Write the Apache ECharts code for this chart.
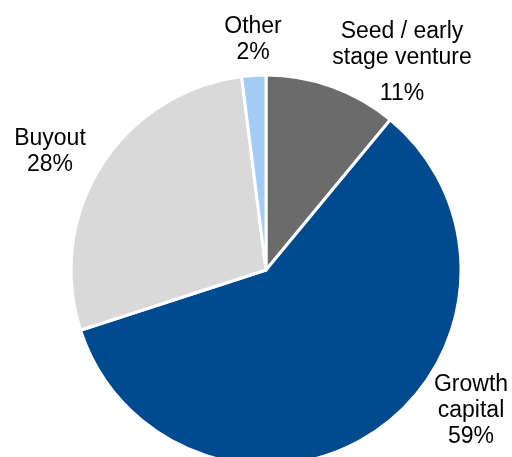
<!DOCTYPE html>
<html><head><meta charset="utf-8">
<script src="https://cdn.jsdelivr.net/npm/echarts@6/dist/echarts.min.js"></script>
<style>html,body{margin:0;padding:0;background:#fff}#c{width:512px;height:457px}</style>
</head><body><div id="c"></div>
<script>
var categories = ['Seed / early\nstage venture', 'Growth\ncapital', 'Buyout', 'Other'];
var values = [11, 59, 28, 2];
var colors = ['#6b6b6b', '#004b8f', '#d9d9d9', '#a3cdf7'];
var labelPos = [[402, 68], [471, 411], [50, 152], [253, 40]];

var chart = echarts.init(document.getElementById('c'));
var ff = 'Liberation Sans, Arial, sans-serif';
chart.setOption({
  animation: false,
  series: [{
    type: 'pie',
    center: [266, 270],
    radius: 195,
    startAngle: 90,
    clockwise: true,
    avoidLabelOverlap: false,
    data: categories.map(function (n, i) {
      return { name: n, value: values[i], itemStyle: { color: colors[i] } };
    }),
    itemStyle: { borderColor: '#fff', borderWidth: 3 },
    label: {
      show: true,
      position: 'outside',
      overflow: 'none',
      fontFamily: ff,
      fontSize: 23,
      lineHeight: 26,
      color: '#000',
      align: 'center',
      formatter: function (p) {
        if (p.dataIndex === 0) {
          var parts = p.name.split('\n');
          return '{a|' + parts[0] + '}\n{a|' + parts[1] + '}\n{b|' + p.value + '%}';
        }
        return p.name + '\n' + p.value + '%';
      },
      rich: {
        a: { fontSize: 23, lineHeight: 26, fontFamily: ff, color: '#000', align: 'center' },
        b: { fontSize: 23, lineHeight: 46, fontFamily: ff, color: '#000', align: 'center' }
      }
    },
    labelLine: { show: false },
    labelLayout: function (params) {
      var p = labelPos[params.dataIndex];
      return { x: p[0], y: p[1], align: 'center', verticalAlign: 'middle' };
    },
    emphasis: { disabled: true }
  }]
});
</script></body></html>
